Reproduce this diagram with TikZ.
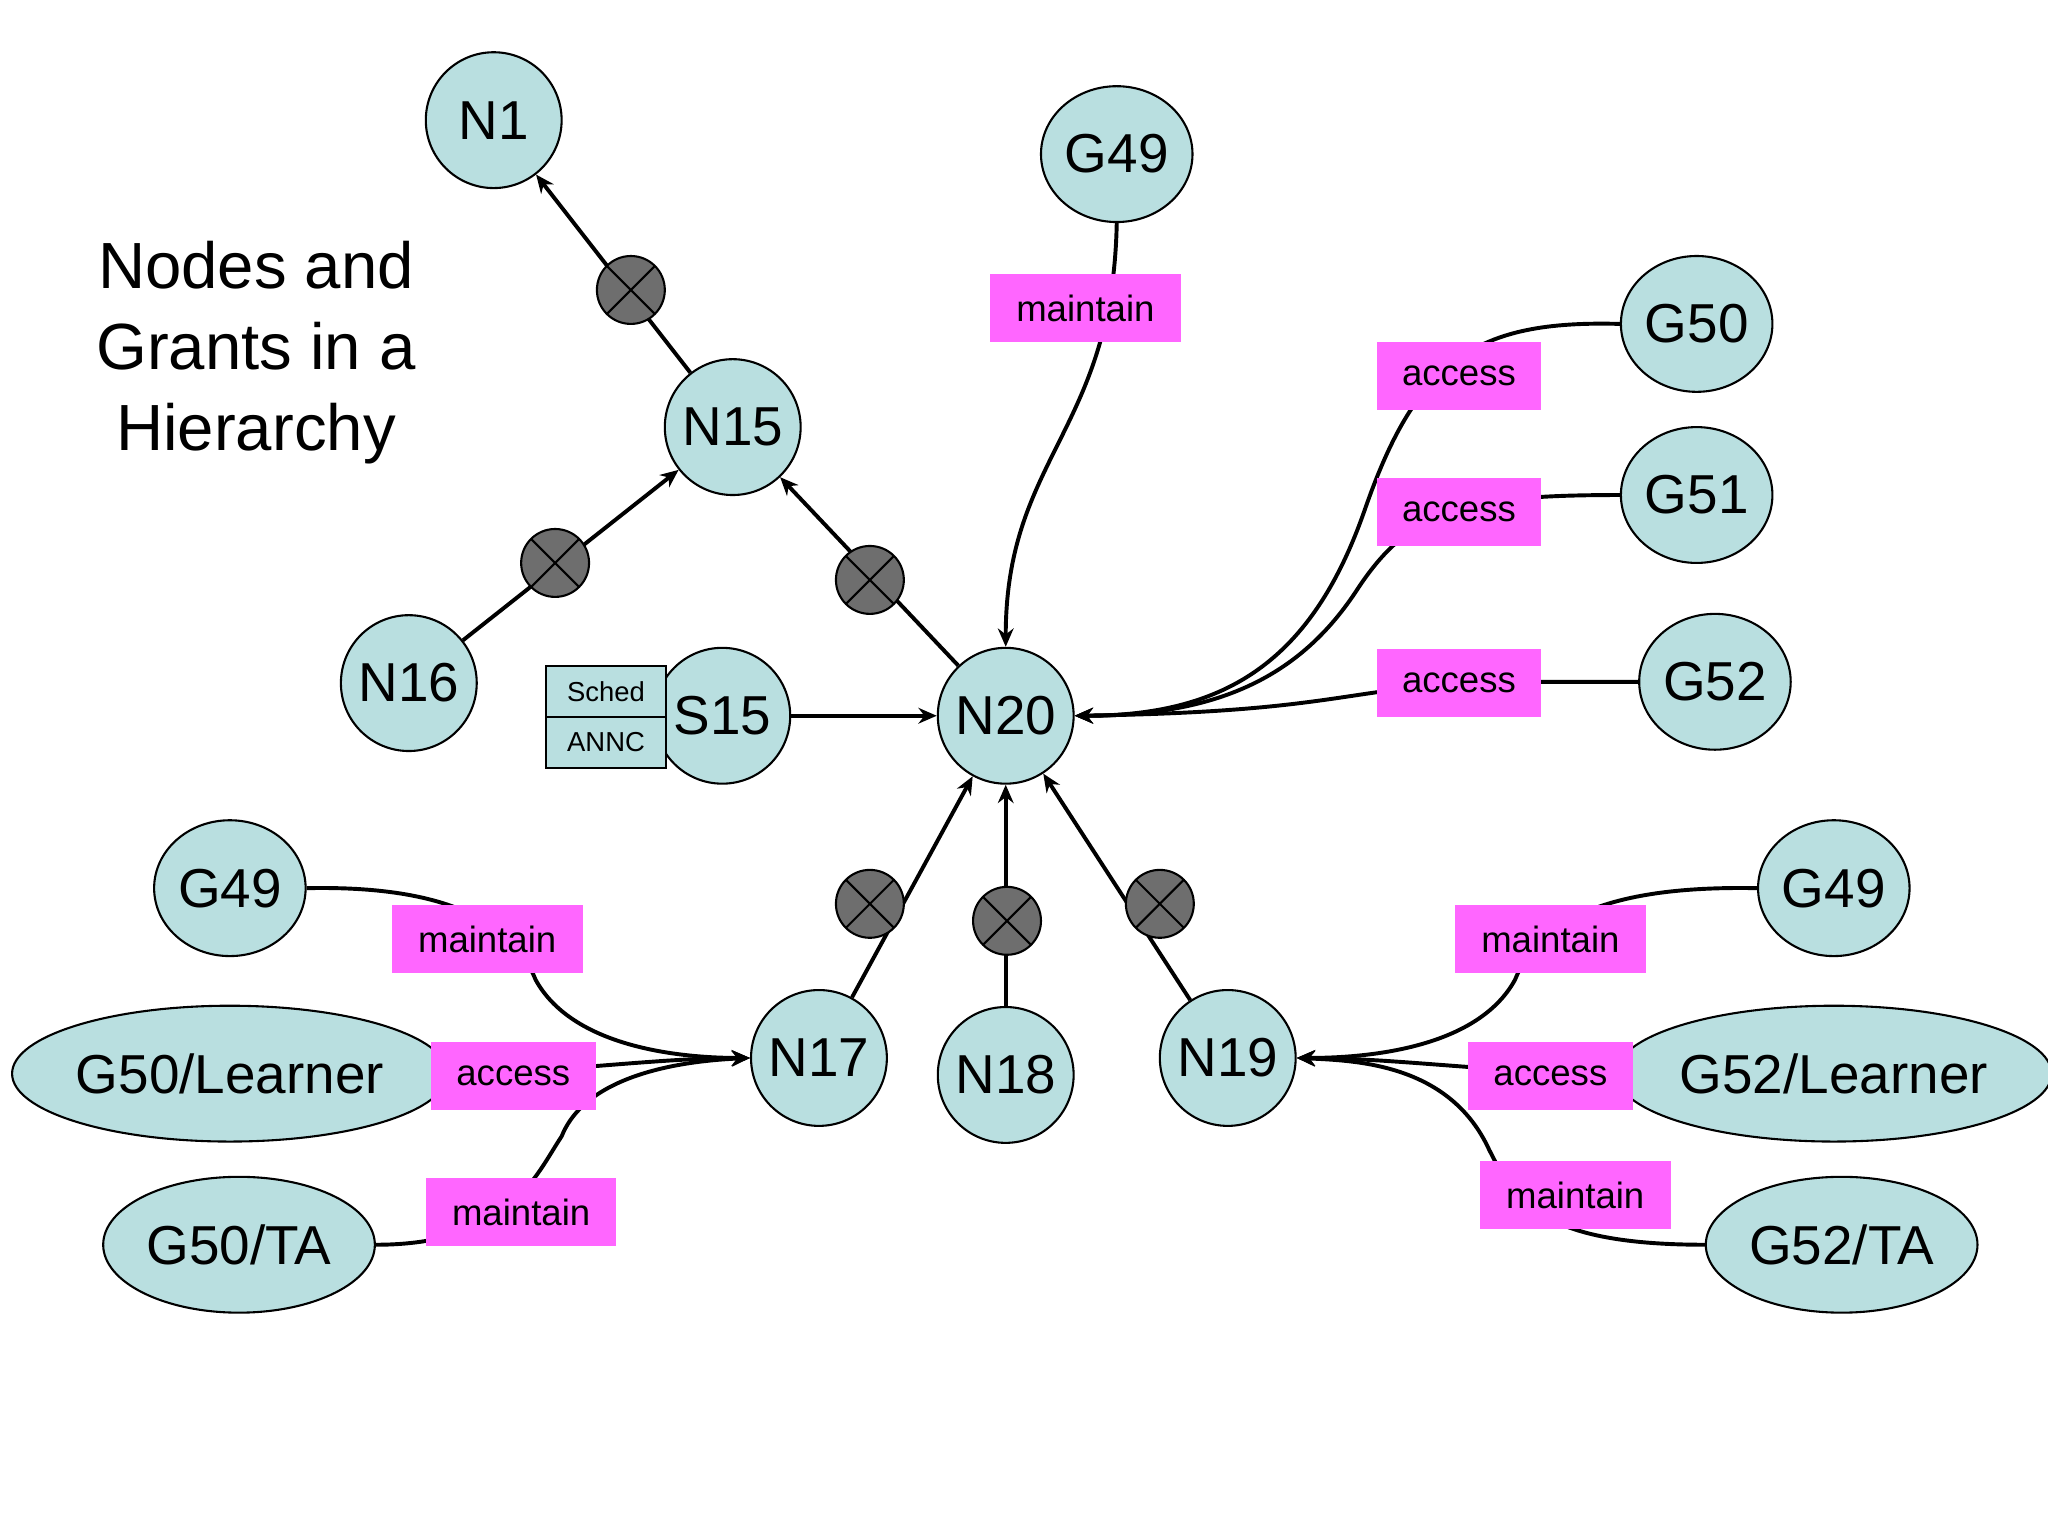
\documentclass[tikz,border=0pt]{standalone}
\usepackage{fontspec}
\setmainfont{Liberation Sans}
\usetikzlibrary{shapes.geometric,arrows.meta}
\definecolor{nodecyan}{HTML}{B9DFE0}
\definecolor{grantpink}{HTML}{FF66FF}
\definecolor{blockgray}{HTML}{6E6E6E}
\begin{document}
\begin{tikzpicture}[x=0.5pt, y=-0.5pt, line width=1.5pt,
    nd/.style={circle, draw, line width=0.8pt, fill=nodecyan, minimum size=52pt, inner sep=0pt, font=\fontsize{21}{21}\selectfont},
    gr/.style={ellipse, draw, line width=0.8pt, fill=nodecyan, minimum width=58pt, minimum height=52pt, inner sep=0pt, font=\fontsize{21}{21}\selectfont},
    lbl/.style={fill=grantpink, minimum height=26pt, inner sep=3pt, font=\fontsize{14}{14}\selectfont},
    xc/.style={circle, draw, line width=0.8pt, fill=blockgray, minimum size=26pt, inner sep=0pt,
      path picture={\draw[line width=0.8pt] (path picture bounding box.north west) -- (path picture bounding box.south east)
        (path picture bounding box.north east) -- (path picture bounding box.south west);}},
    arr/.style={-{Stealth[length=7pt,width=6pt]}}]
  \useasboundingbox (0,0) rectangle (1568,1176);

  %---- title
  \node[align=center, font=\fontsize{25}{31}\selectfont] (title) at (196,270) {Nodes and\\Grants in a\\Hierarchy};

  %---- nodes
  \node[nd] (n1)  at (378,92)  {N1};
  \node[nd] (n15) at (561,327) {N15};
  \node[nd] (n16) at (313,523) {N16};
  \node[nd] (s15) at (553,548) {S15};
  \node[nd] (n20) at (770,548) {N20};
  \node[nd] (n17) at (627,810) {N17};
  \node[nd] (n18) at (770,823) {N18};
  \node[nd] (n19) at (940,810) {N19};

  %---- grants
  \node[gr] (g49t) at (855,118)  {G49};
  \node[gr] (g50)  at (1299,248) {G50};
  \node[gr] (g51)  at (1299,379) {G51};
  \node[gr] (g52)  at (1313,522) {G52};
  \node[gr] (g49l) at (176,680)  {G49};
  \node[gr, minimum width=138pt] (g50l)  at (176,822) {G50/Learner};
  \node[gr, minimum width=104pt] (g50ta) at (183,953) {G50/TA};
  \node[gr] (g49r) at (1404,680) {G49};
  \node[gr, minimum width=137pt] (g52l)  at (1404,822) {G52/Learner};
  \node[gr, minimum width=104pt] (g52ta) at (1410,953) {G52/TA};

  %---- hierarchy edges
  \draw[arr] (n15) -- (n1);
  \draw[arr] (n16) -- (n15);
  \draw[arr] (n20) -- (n15);
  \draw[arr] (s15) -- (n20);
  \draw[arr] (n17) -- (n20);
  \draw[arr] (n18) -- (n20);
  \draw[arr] (n19) -- (n20);

  %---- blocked marks
  \node[xc] (x1) at (483,222) {};
  \node[xc] (x2) at (425,431) {};
  \node[xc] (x3) at (666,444) {};
  \node[xc] (x4) at (666,692) {};
  \node[xc] (x5) at (771,705) {};
  \node[xc] (x6) at (888,692) {};

  %---- schedule box
  \node[draw, line width=0.8pt, fill=nodecyan, minimum width=46pt, minimum height=19.5pt, inner sep=0pt, font=\fontsize{10.5}{10.5}\selectfont] (sched) at (464,529.5) {Sched};
  \node[draw, line width=0.8pt, fill=nodecyan, minimum width=46pt, minimum height=19.5pt, inner sep=0pt, font=\fontsize{10.5}{10.5}\selectfont] (annc) at (464,568.5) {ANNC};

  %---- grant edges to N20
  \draw[arr] (g49t.south) .. controls (852,330) and (770,350) .. (n20.north);
  \draw[arr] (g50.west) .. controls (1130,245) and (1085,275) .. (1045,390)
    .. controls (1005,505) and (940,548) .. (n20.east);
  \draw[arr] (g51.west) .. controls (1120,379) and (1080,390) .. (1040,450)
    .. controls (995,520) and (930,548) .. (n20.east);
  \draw[arr] (g52.west) -- (1150,522) .. controls (1030,525) and (1030,545) .. (n20.east);

  %---- grant edges to N17
  \draw[arr] (g49l.east) .. controls (330,678) and (390,700) .. (410,750)
    .. controls (440,805) and (530,810) .. (n17.west);
  \draw[arr] (g50l.east) .. controls (420,822) and (500,810) .. (n17.west);
  \draw[arr] (g50ta.east) .. controls (390,953) and (410,900) .. (430,870)
    .. controls (450,820) and (530,812) .. (n17.west);

  %---- grant edges to N19
  \draw[arr] (g49r.west) .. controls (1240,678) and (1180,700) .. (1160,750)
    .. controls (1130,805) and (1040,810) .. (n19.east);
  \draw[arr] (g52l.west) .. controls (1150,822) and (1070,810) .. (n19.east);
  \draw[arr] (g52ta.west) .. controls (1180,953) and (1160,920) .. (1140,880)
    .. controls (1110,815) and (1040,812) .. (n19.east);

  %---- grant labels
  \node[lbl, minimum width=73pt] (mt)  at (831,236)  {maintain};
  \node[lbl, minimum width=63pt] (ac1) at (1117,288) {access};
  \node[lbl, minimum width=63pt] (ac2) at (1117,392) {access};
  \node[lbl, minimum width=63pt] (ac3) at (1117,523) {access};
  \node[lbl, minimum width=73pt] (ml1) at (373,719)  {maintain};
  \node[lbl, minimum width=63pt] (al)  at (393,824)  {access};
  \node[lbl, minimum width=73pt] (ml2) at (399,928)  {maintain};
  \node[lbl, minimum width=73pt] (mr1) at (1187,719) {maintain};
  \node[lbl, minimum width=63pt] (ar)  at (1187,824) {access};
  \node[lbl, minimum width=73pt] (mr2) at (1206,915) {maintain};
\end{tikzpicture}
\end{document}
